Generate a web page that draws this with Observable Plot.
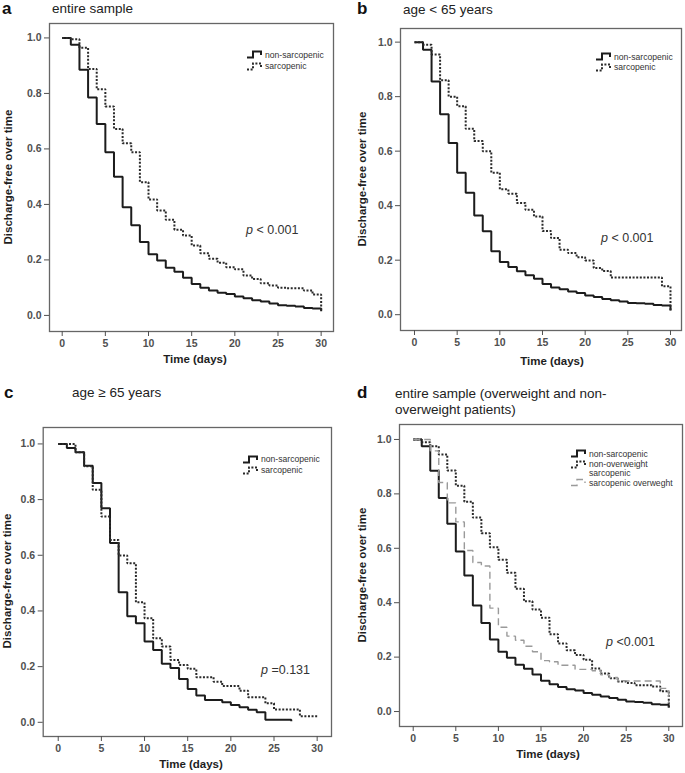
<!DOCTYPE html>
<html><head><meta charset="utf-8">
<script src="https://cdn.jsdelivr.net/npm/d3@7"></script>
<script src="https://cdn.jsdelivr.net/npm/@observablehq/plot@0.6"></script>
<style>
body{margin:0;background:#fff;}
#root{position:relative;width:685px;height:773px;overflow:hidden;font-family:"Liberation Sans",Arial,sans-serif;color:#222;}
.t{position:absolute;white-space:nowrap;line-height:1;}
</style></head><body><div id="root"></div>
<script>
// ---------- data ----------
const days = [0,1,2,3,4,5,6,7,8,9,10,11,12,13,14,15,16,17,18,19,20,21,22,23,24,25,26,27,28,29,30];
const xTicks = [0,5,10,15,20,25,30];
const yTicks = [0.0,0.2,0.4,0.6,0.8,1.0];

// panel a: entire sample
const aNonSarc = [1,0.975,0.885,0.785,0.69,0.588,0.5,0.39,0.325,0.265,0.22,0.198,0.172,0.157,0.136,0.113,0.1,0.09,0.082,0.077,0.068,0.062,0.055,0.05,0.043,0.037,0.035,0.032,0.027,0.025,0.015];
const aSarc    = [1,0.995,0.965,0.888,0.815,0.753,0.672,0.62,0.588,0.48,0.418,0.378,0.345,0.309,0.288,0.252,0.224,0.204,0.19,0.174,0.166,0.144,0.131,0.116,0.108,0.1,0.098,0.098,0.09,0.075,0.015];
// panel b: age < 65
const bNonSarc = [1,0.972,0.856,0.735,0.63,0.521,0.447,0.364,0.306,0.233,0.193,0.175,0.159,0.145,0.132,0.113,0.1,0.093,0.085,0.08,0.07,0.065,0.058,0.053,0.048,0.043,0.042,0.04,0.036,0.034,0.015];
const bSarc    = [1,0.99,0.955,0.86,0.8,0.765,0.682,0.637,0.6,0.521,0.46,0.444,0.41,0.385,0.36,0.307,0.281,0.238,0.226,0.211,0.199,0.171,0.16,0.136,0.136,0.136,0.136,0.136,0.136,0.104,0.016];
// panel c: age >= 65
const cNonSarc = [1,0.985,0.97,0.922,0.86,0.769,0.644,0.467,0.381,0.356,0.29,0.26,0.21,0.195,0.156,0.12,0.096,0.08,0.08,0.072,0.062,0.054,0.045,0.036,0.009,0.009,0.009,0.004];
const cSarc    = [1,1,0.97,0.92,0.835,0.739,0.655,0.599,0.571,0.431,0.374,0.302,0.272,0.224,0.206,0.192,0.162,0.162,0.146,0.13,0.13,0.113,0.09,0.09,0.068,0.046,0.046,0.046,0.022,0.022,0.022];
// panel d: overweight split
const dNonSarc   = [1,0.975,0.885,0.785,0.69,0.588,0.5,0.39,0.325,0.265,0.22,0.198,0.172,0.157,0.136,0.113,0.1,0.09,0.082,0.077,0.068,0.062,0.055,0.05,0.043,0.037,0.035,0.032,0.027,0.025,0.015];
const dNonOwSarc = [1,0.99,0.975,0.945,0.886,0.83,0.771,0.713,0.655,0.604,0.558,0.51,0.451,0.405,0.375,0.345,0.284,0.25,0.225,0.208,0.19,0.158,0.14,0.122,0.11,0.105,0.097,0.097,0.092,0.075,0.015];
const dOwSarc    = [1,1,0.958,0.842,0.767,0.697,0.592,0.548,0.535,0.38,0.31,0.277,0.262,0.24,0.22,0.187,0.183,0.17,0.17,0.155,0.155,0.15,0.135,0.125,0.113,0.112,0.112,0.112,0.112,0.085,0.03];

// ---------- styles ----------
const SOLID  = {stroke:"#1c1c1c", width:2,   dash:null};
const DOTTED = {stroke:"#2a2a2a", width:2,   dash:"2,1.6"};
const GREYD  = {stroke:"#9a9a9a", width:1.4, dash:"7,4"};

const root = document.getElementById("root");
function text(str, x, y, css, html){
  const d = document.createElement("div");
  d.className = "t";
  if (html) d.innerHTML = str; else d.textContent = str;
  d.style.left = x + "px"; d.style.top = y + "px";
  Object.assign(d.style, css || {});
  root.appendChild(d);
  return d;
}
function glyph(x, y, st){
  const ns = "http://www.w3.org/2000/svg";
  const s = document.createElementNS(ns, "svg");
  s.setAttribute("width", 18); s.setAttribute("height", 9);
  s.style.position = "absolute"; s.style.left = x + "px"; s.style.top = (y - 4.5) + "px";
  const p = document.createElementNS(ns, "path");
  p.setAttribute("d", "M1,7.5H7V1.5H15V5");
  p.setAttribute("fill", "none");
  p.setAttribute("stroke", st.stroke);
  p.setAttribute("stroke-width", st.width);
  if (st.dash) p.setAttribute("stroke-dasharray", st.dash);
  s.appendChild(p);
  root.appendChild(s);
}

function panel(p){
  const [bx0, by0, bx1, by1] = p.box;
  const [L, T, R, B] = p.frame;
  const marks = [Plot.frame({stroke:"#666", strokeWidth:1.3})];
  for (const s of p.series){
    const data = s.values.map((v, i) => ({day: days[i], value: v}));
    marks.push(Plot.line(data, {x:"day", y:"value", curve:"step-after",
      stroke: s.style.stroke, strokeWidth: s.style.width,
      strokeDasharray: s.style.dash, strokeLinecap:"butt", strokeLinejoin:"miter"}));
  }
  marks.push(Plot.axisX({ticks: xTicks, tickSize:5, tickPadding:3, label:null, tickFormat: d => String(d)}));
  marks.push(Plot.axisY({ticks: yTicks, tickSize:5, tickPadding:3, label:null, tickFormat: d => d.toFixed(1)}));
  const chart = Plot.plot({
    width: bx1 - bx0, height: by1 - by0,
    marginLeft: L - bx0, marginRight: bx1 - R, marginTop: T - by0, marginBottom: by1 - B,
    x: {domain: p.xd}, y: {domain: p.yd},
    style: {fontFamily:"'Liberation Sans', Arial, sans-serif", fontSize:"10.5px", fontWeight:"bold", color:"#505050", background:"transparent", overflow:"visible"},
    marks
  });
  chart.style.position = "absolute";
  chart.style.left = bx0 + "px"; chart.style.top = by0 + "px";
  chart.style.maxWidth = "none";
  root.appendChild(chart);

  // panel letter and title
  text(p.letter, p.letterPos[0], p.letterPos[1], {fontSize:"17px", fontWeight:"bold", color:"#111", transform:"translateY(-50%)"});
  p.title.forEach((ln, i) => text(ln, p.titlePos[0], p.titlePos[1] + i * 16, {fontSize:"13.5px", color:"#222", transform:"translateY(-50%)"}));
  // axis titles
  text("Discharge-free over time", p.ylab[0], p.ylab[1], {fontSize:"11.5px", fontWeight:"bold", color:"#1e1e1e", transform:"translate(-50%,-50%) rotate(-90deg)"});
  text("Time (days)", p.xlab[0], p.xlab[1], {fontSize:"11.5px", fontWeight:"bold", color:"#1e1e1e", transform:"translate(-50%,-50%)"});
  // legend
  p.legend.forEach(it => {
    glyph(p.legX, it.y, it.style);
    it.lines.forEach((ln, j) => text(ln, p.legX + 19, it.y + j * 8.7, {fontSize:"8.6px", color:"#333", transform:"translateY(-50%)"}));
  });
  // p value
  text(p.pval, p.pPos[0], p.pPos[1], {fontSize:"12.5px", color:"#333", transform:"translateY(-50%)"}, true);
}

panel({
  box:[0,18,340,375], frame:[49,23,333,331], xd:[-1.47,31.43], yd:[-0.058,1.052],
  series:[{values:aNonSarc, style:SOLID},{values:aSarc, style:DOTTED}],
  letter:"a", letterPos:[2,8], title:["entire sample"], titlePos:[52,9],
  ylab:[9,177], xlab:[195,360],
  legX:246, legend:[{y:54.5, style:SOLID, lines:["non-sarcopenic"]},{y:66, style:DOTTED, lines:["sarcopenic"]}],
  pval:"<i>p</i> &lt; 0.001", pPos:[246,230]
});
panel({
  box:[340,18,685,375], frame:[400,28,681,330], xd:[-1.64,31.29], yd:[-0.058,1.050],
  series:[{values:bNonSarc, style:SOLID},{values:bSarc, style:DOTTED}],
  letter:"b", letterPos:[357,8], title:["age < 65 years"], titlePos:[403,9.5],
  ylab:[363,179], xlab:[552,362],
  legX:595, legend:[{y:56.5, style:SOLID, lines:["non-sarcopenic"]},{y:67, style:DOTTED, lines:["sarcopenic"]}],
  pval:"<i>p</i> &lt; 0.001", pPos:[601,238]
});
panel({
  box:[0,415,340,773], frame:[42.7,427,331,736], xd:[-1.74,31.66], yd:[-0.051,1.059],
  series:[{values:cNonSarc, style:SOLID},{values:cSarc, style:DOTTED}],
  letter:"c", letterPos:[4,392], title:["age \u2265 65 years"], titlePos:[72,393],
  ylab:[8,581], xlab:[191,765],
  legX:242, legend:[{y:459, style:SOLID, lines:["non-sarcopenic"]},{y:470, style:DOTTED, lines:["sarcopenic"]}],
  pval:"<i>p</i> =0.131", pPos:[261,670]
});
panel({
  box:[340,415,685,773], frame:[399,424,682,726], xd:[-1.61,31.61], yd:[-0.055,1.055],
  series:[{values:dNonSarc, style:SOLID},{values:dNonOwSarc, style:DOTTED},{values:dOwSarc, style:GREYD}],
  letter:"d", letterPos:[357,392], title:["entire sample (overweight and non-","overweight patients)"], titlePos:[395,394],
  ylab:[363,575], xlab:[548,755],
  legX:570, legend:[{y:453.5, style:SOLID, lines:["non-sarcopenic"]},{y:464, style:DOTTED, lines:["non-overweight","sarcopenic"]},{y:482.5, style:GREYD, lines:["sarcopenic overweght"]}],
  pval:"<i>p</i> &lt;0.001", pPos:[606,642]
});
</script>
</body></html>
